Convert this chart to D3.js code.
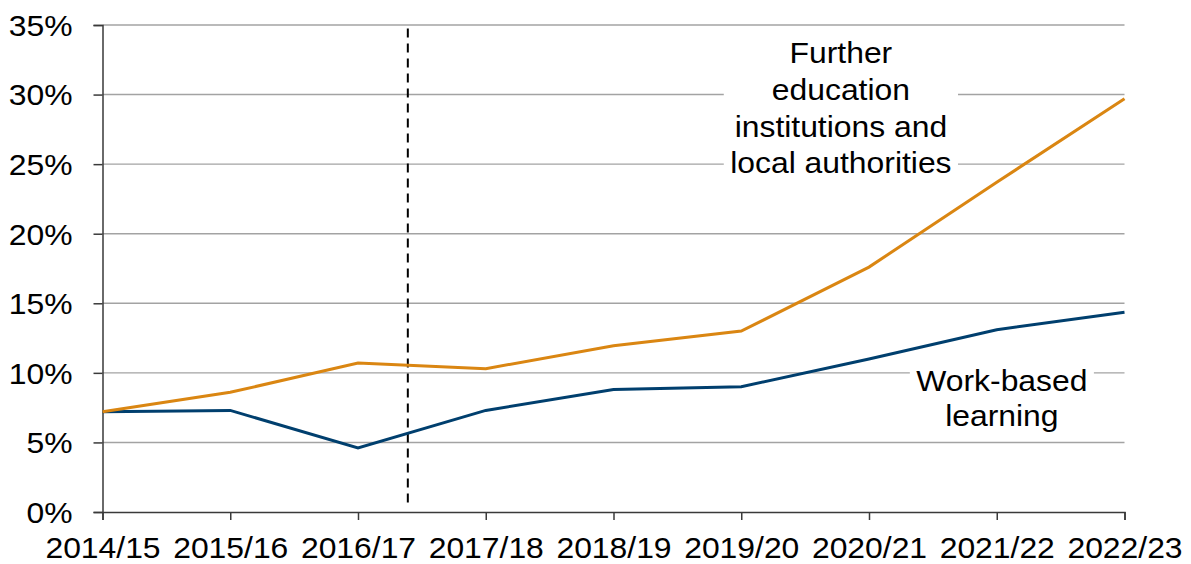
<!DOCTYPE html>
<html>
<head>
<meta charset="utf-8">
<script src="https://cdn.jsdelivr.net/npm/d3@7"></script>
<style>
  html, body { margin: 0; padding: 0; background: #fff; }
  svg { display: block; font-family: Arial, "Liberation Sans", sans-serif; }
</style>
</head>
<body>
<svg id="chart" width="1191" height="564"></svg>
<script>
// Academic years on the horizontal axis
const categories = ["2014/15", "2015/16", "2016/17", "2017/18", "2018/19", "2019/20", "2020/21", "2021/22", "2022/23"];

// Percentages per year
const furtherEducation = [7.2, 8.6, 10.7, 10.3, 11.95, 13.0, 17.6, 23.7, 29.7];
const workBasedLearning = [7.2, 7.3, 4.6, 7.3, 8.8, 9.0, 11.0, 13.1, 14.35];

// Vertical axis ticks (percent)
const yTicks = [0, 5, 10, 15, 20, 25, 30, 35];

// Position of the dashed divider, in category-index units
const dividerAt = 2.39;

const seriesLabels = [
  { lines: ["Further", "education", "institutions and", "local authorities"], at: 5.78, first: 32.25, lead: 36.7 },
  { lines: ["Work-based", "learning"], at: 7.04, first: 8.7, lead: 35.2 }
];

const plotLeft = 102.5, plotRight = 1124.5, plotTop = 25, plotBottom = 512;
const fontSize = 29.5, stretch = 1.08;

const svg = d3.select("#chart");

const x = d3.scaleLinear().domain([0, categories.length - 1]).range([plotLeft, plotRight]);
const y = d3.scaleLinear().domain([0, 35]).range([plotBottom, plotTop]);

// Horizontal gridlines
svg.append("g")
  .selectAll("line")
  .data(yTicks.filter(t => t > 0))
  .join("line")
  .attr("x1", plotLeft).attr("x2", plotRight)
  .attr("y1", d => y(d)).attr("y2", d => y(d))
  .attr("stroke", "#a3a3a3")
  .attr("stroke-width", 1.4);

// Series labels with white backing boxes
seriesLabels.forEach(lab => {
  const g = svg.append("g")
    .attr("transform", `translate(${x(lab.at)},${y(lab.first)}) scale(${stretch},1)`);
  const rect = g.append("rect").attr("fill", "#fff");
  const t = g.append("text")
    .attr("text-anchor", "middle")
    .attr("font-size", fontSize)
    .attr("fill", "#000");
  lab.lines.forEach((s, i) => {
    t.append("tspan").attr("x", 0).attr("y", i * lab.lead).text(s);
  });
  const bb = t.node().getBBox();
  const padX = 6, padY = 2;
  rect.attr("x", bb.x - padX).attr("y", bb.y - padY)
    .attr("width", bb.width + 2 * padX).attr("height", bb.height + 2 * padY);
});

// Axes
const xAxis = d3.axisBottom(x)
  .tickValues(d3.range(categories.length))
  .tickFormat(i => categories[i])
  .tickSize(8)
  .tickPadding(10);

const gx = svg.append("g")
  .attr("transform", `translate(0,${plotBottom})`)
  .call(xAxis);

const yAxis = d3.axisLeft(y)
  .tickValues(yTicks)
  .tickFormat(d => d + "%")
  .tickSize(9)
  .tickPadding(20);

const gy = svg.append("g")
  .attr("transform", `translate(${plotLeft},0)`)
  .call(yAxis);

[gx, gy].forEach(g => {
  g.select(".domain").attr("stroke", "#3a3a3a").attr("stroke-width", 1.5);
  g.selectAll(".tick line").attr("stroke", "#3a3a3a").attr("stroke-width", 1.5);
  g.selectAll(".tick text")
    .attr("font-size", fontSize)
    .attr("font-family", "Arial, 'Liberation Sans', sans-serif")
    .attr("fill", "#000");
});

// Horizontally stretch tick labels about their anchor
gx.selectAll(".tick text")
  .attr("dy", null)
  .attr("y", 0)
  .attr("transform", `translate(0,45.5) scale(${stretch},1)`);
gy.selectAll(".tick text")
  .attr("dy", "0.35em")
  .attr("x", 0)
  .attr("transform", `translate(-30,0) scale(${stretch},1)`);

// Dashed divider
svg.append("line")
  .attr("x1", x(dividerAt)).attr("x2", x(dividerAt))
  .attr("y1", y(34.75)).attr("y2", y(0.5))
  .attr("stroke", "#000")
  .attr("stroke-width", 2)
  .attr("stroke-dasharray", "9,6");

// Data lines
const line = d3.line()
  .x((d, i) => x(i))
  .y(d => y(d));

svg.append("path")
  .datum(workBasedLearning)
  .attr("d", line)
  .attr("fill", "none")
  .attr("stroke", "#003f6e")
  .attr("stroke-width", 3);

svg.append("path")
  .datum(furtherEducation)
  .attr("d", line)
  .attr("fill", "none")
  .attr("stroke", "#da8612")
  .attr("stroke-width", 3);
</script>
</body>
</html>
